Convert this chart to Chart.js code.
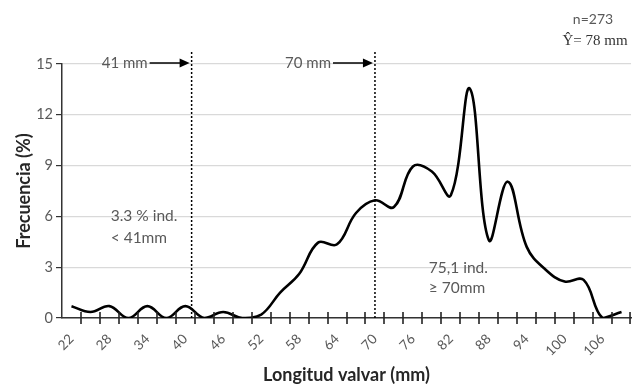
<!DOCTYPE html>
<html>
<head>
<meta charset="utf-8">
<script src="https://cdn.jsdelivr.net/npm/chart.js@4.4.0/dist/chart.umd.min.js"></script>
<style>
  html, body { margin: 0; padding: 0; background: #fff; }
  #wrap { width: 638px; height: 387px; }
</style>
</head>
<body>
<div id="wrap"><canvas id="myChart" width="638" height="387"></canvas></div>
<script>
// longitud valvar (mm), clases de 3 mm
const lengths = [22, 25, 28, 31, 34, 37, 40, 43, 46, 49, 52, 55, 58, 61, 64, 67, 70, 73, 76, 79,
                 82, 85, 88, 91, 94, 97, 100, 103, 106, 109]
// frecuencia (%)
const freq = [0.7, 0.35, 0.7, 0, 0.7, 0, 0.7, 0, 0.35, 0, 0.2, 1.5, 2.6, 4.45, 4.35, 6.2, 6.95, 6.55, 8.95, 8.65,
              7.25, 13.55, 4.6, 8.05, 4.2, 2.85, 2.15, 2.25, 0, 0.35]
const yTicks = [0, 3, 6, 9, 12, 15]
const cutoffs = [41, 70]

const grey = '#595959'
const font = 'Lato, "Open Sans", sans-serif'

function xPos(scale, mm) {
    return scale.getPixelForValue((mm - lengths[0]) / 3)
}

const annotations = {
    id: 'annotations',
    afterDraw(chart) {
        const ctx = chart.ctx
        const x = chart.scales.x
        const y = chart.scales.y
        const area = chart.chartArea
        ctx.save()

        // cross tick marks on the x axis (category boundaries)
        ctx.strokeStyle = '#222'
        ctx.lineWidth = 1.6
        for (let i = 1; i <= lengths.length; i++) {
            const px = Math.min(Math.round(x.getPixelForValue(i - 0.5)), area.right - 1)
            ctx.beginPath()
            ctx.moveTo(px, area.bottom - 6)
            ctx.lineTo(px, area.bottom + 6)
            ctx.stroke()
        }

        // dotted cut-off lines with labels
        cutoffs.forEach(mm => {
            const px = xPos(x, mm)
            ctx.strokeStyle = '#000'
            ctx.lineWidth = 1.5
            ctx.setLineDash([2, 2])
            ctx.beginPath()
            ctx.moveTo(px, area.top - 12)
            ctx.lineTo(px, area.bottom)
            ctx.stroke()
            ctx.setLineDash([])

            // arrow
            const ay = area.top - 1
            ctx.lineWidth = 1.5
            ctx.beginPath()
            ctx.moveTo(px - 42, ay)
            ctx.lineTo(px - 10, ay)
            ctx.stroke()
            ctx.fillStyle = '#000'
            ctx.beginPath()
            ctx.moveTo(px - 2, ay)
            ctx.lineTo(px - 12, ay - 4.5)
            ctx.lineTo(px - 12, ay + 4.5)
            ctx.closePath()
            ctx.fill()

            ctx.fillStyle = grey
            ctx.font = '15px ' + font
            ctx.textAlign = 'right'
            ctx.textBaseline = 'middle'
            ctx.fillText(mm + ' mm', px - 44, ay)
        })

        // side notes
        ctx.fillStyle = grey
        ctx.font = '15.5px ' + font
        ctx.textAlign = 'left'
        ctx.textBaseline = 'middle'
        ctx.fillText('3.3 % ind.', xPos(x, 28.2), y.getPixelForValue(6.0))
        ctx.fillText('< 41mm', xPos(x, 28.2), y.getPixelForValue(4.7))
        ctx.fillText('75,1 ind.', xPos(x, 78.5), y.getPixelForValue(2.95))
        ctx.fillText('\u2265 70mm', xPos(x, 78.5), y.getPixelForValue(1.75))

        // sample size and mean
        ctx.textAlign = 'center'
        ctx.fillStyle = grey
        ctx.font = '14px ' + font
        ctx.fillText('n=273', 593, 19)
        ctx.fillStyle = '#333'
        ctx.font = '15px "Liberation Serif", "DejaVu Serif", serif'
        ctx.fillText('\u0176= 78 mm', 595, 41)
        ctx.restore()
    }
}

const chartEl = document.getElementById('myChart')
const myChart = new Chart(chartEl, {
    type: 'line',
    data: {
        labels: lengths,
        datasets: [{
            data: freq,
            borderColor: '#000',
            borderWidth: 2.6,
            pointRadius: 0,
            tension: 0.4,
            fill: false
        }]
    },
    options: {
        responsive: false,
        animation: false,
        layout: { padding: { top: 64, right: 0, left: 0, bottom: 0 } },
        plugins: { legend: { display: false }, tooltip: { enabled: false } },
        scales: {
            x: {
                type: 'category',
                offset: true,
                grid: { display: false, offset: true },
                border: { display: true, color: '#333', width: 1.5 },
                ticks: {
                    autoSkip: false,
                    minRotation: 45,
                    maxRotation: 45,
                    padding: 5,
                    color: grey,
                    font: { family: font, size: 13.5 },
                    callback: (v, i) => i % 2 === 0 ? lengths[i] : ''
                },
                title: {
                    display: true,
                    text: 'Longitud valvar (mm)',
                    color: '#262626',
                    font: { family: font, size: 18, weight: 'bold' },
                    padding: { top: 0, bottom: 1 }
                },
                afterFit: scale => { scale.height = 69 }
            },
            y: {
                min: 0,
                max: 15,
                afterBuildTicks: scale => { scale.ticks = yTicks.map(v => ({ value: v })) },
                grid: { color: '#d9d9d9', lineWidth: 1.2, tickLength: 6, tickColor: '#333' },
                border: { display: true, color: '#333', width: 1.5 },
                ticks: {
                    padding: 3,
                    color: grey,
                    font: { family: font, size: 14.5 }
                },
                title: {
                    display: true,
                    text: 'Frecuencia (%)',
                    color: '#262626',
                    font: { family: font, size: 18, weight: 'bold' },
                    padding: { top: 13, bottom: 0 }
                },
                afterFit: scale => { scale.width = 62 }
            }
        }
    },
    plugins: [annotations]
})
</script>
</body>
</html>
